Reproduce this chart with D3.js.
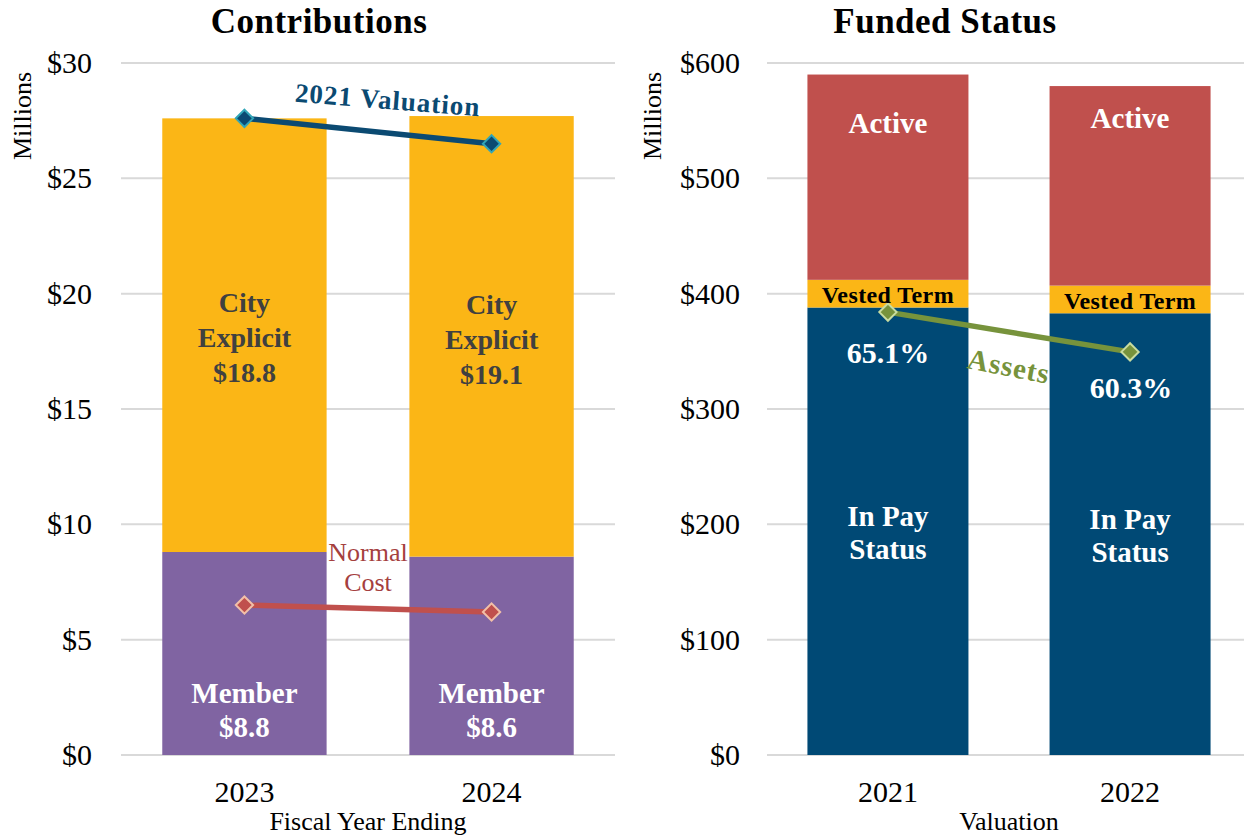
<!doctype html>
<html>
<head>
<meta charset="utf-8"/>
<title>Contributions and Funded Status</title>
<script src="https://d3js.org/d3.v7.min.js"></script>
<style>
body { margin: 0; background: #fff; }
text { font-family: "Liberation Serif", "Times New Roman", serif; }
</style>
</head>
<body>
<svg id="svg1" width="1244" height="838"></svg>
<script>
// contributions chart
const fiscal_years = ['2023', '2024'];
const member = [8.8, 8.6];
const city_explicit = [18.8, 19.1];
const valuation_2021 = [27.6, 26.5];
const normal_cost = [6.5, 6.2];
const contrib_ticks = [0, 5, 10, 15, 20, 25, 30];

// funded status chart
const valuations = ['2021', '2022'];
const in_pay = [388, 383];
const vested_term = [24, 24];
const active = [178, 173];
const assets = [384, 349.5];
const funded_pct = ['65.1%', '60.3%'];
const funded_ticks = [0, 100, 200, 300, 400, 500, 600];

const svg = d3.select('#svg1');
const top_y = 63, bottom_y = 755;

function draw_panel(opt) {
    const x = d3.scaleBand().domain(opt.cats).range([opt.x0, opt.x1]).paddingInner(0.335).paddingOuter(0.167);
    const y = d3.scaleLinear().domain([0, opt.max]).range([bottom_y, top_y]);
    const g = svg.append('g');

    // gridlines
    g.selectAll('.grid').data(opt.ticks).enter().append('line')
        .attr('x1', opt.x0).attr('x2', opt.x1)
        .attr('y1', d => y(d)).attr('y2', d => y(d))
        .style('stroke', '#d9d9d9').style('stroke-width', 2);

    // tick labels
    const axis = d3.axisLeft(y).tickValues(opt.ticks).tickSize(0).tickPadding(opt.pad)
        .tickFormat(d => '$' + d);
    const ax = g.append('g').attr('transform', `translate(${opt.x0},0)`).call(axis);
    ax.select('.domain').remove();
    ax.selectAll('text').style('font-size', '30px').style('fill', '#000')
        .style('font-family', '"Liberation Serif", serif');

    const xa = d3.axisBottom(x).tickSize(0).tickPadding(26);
    const xg = g.append('g').attr('transform', `translate(0,${bottom_y})`).call(xa);
    xg.select('.domain').remove();
    xg.selectAll('text').style('font-size', '30px').style('fill', '#000')
        .style('font-family', '"Liberation Serif", serif');

    // stacked bars
    opt.cats.forEach((c, i) => {
        let base = 0;
        opt.stacks.forEach(s => {
            const v = s.values[i];
            g.append('rect')
                .attr('x', x(c)).attr('width', x.bandwidth())
                .attr('y', y(base + v)).attr('height', y(base) - y(base + v))
                .style('fill', s.color);
            base += v;
        });
    });

    // title and axis titles
    g.append('text').attr('x', opt.title_x).attr('y', 33)
        .attr('text-anchor', 'middle').style('font-size', '35px').style('font-weight', 'bold')
        .style('letter-spacing', '0.5px').text(opt.title);
    g.append('text').attr('x', (opt.x0 + opt.x1) / 2).attr('y', 830)
        .attr('text-anchor', 'middle').style('font-size', '26px').text(opt.x_title);
    g.append('text').attr('transform', `translate(${opt.mil_x},116) rotate(-90)`)
        .attr('text-anchor', 'middle').style('font-size', '26px').text('Millions');

    return {x: x, y: y, g: g};
}

function draw_line(p, cats, values, color, edge) {
    const line = d3.line().x((d, i) => p.x(cats[i]) + p.x.bandwidth() / 2).y(d => p.y(d));
    p.g.append('path').datum(values).attr('d', line)
        .style('fill', 'none').style('stroke', color).style('stroke-width', 5.5);
    p.g.selectAll(null).data(values).enter().append('path')
        .attr('d', d3.symbol(d3.symbolDiamond2, 190))
        .attr('transform', (d, i) => `translate(${p.x(cats[i]) + p.x.bandwidth() / 2},${p.y(d)})`)
        .style('fill', color).style('stroke', edge).style('stroke-width', 2);
}

function label(p, x, y, lines, color, size, weight, lh) {
    const t = p.g.append('text').attr('x', x).attr('y', y).attr('text-anchor', 'middle')
        .style('fill', color).style('font-size', size + 'px').style('font-weight', weight);
    lines.forEach((s, k) => t.append('tspan').attr('x', x).attr('dy', k == 0 ? 0 : lh).text(s));
    return t;
}

// left panel
const left = draw_panel({
    cats: fiscal_years, x0: 121, x1: 615, max: 30, ticks: contrib_ticks, pad: 29,
    stacks: [{values: member, color: '#8064a2'}, {values: city_explicit, color: '#fbb616'}],
    title: 'Contributions', title_x: 319, x_title: 'Fiscal Year Ending', mil_x: 31
});
draw_line(left, fiscal_years, valuation_2021, '#0b4a72', '#31a6b8');
draw_line(left, fiscal_years, normal_cost, '#c0504d', '#f2c0a8');

fiscal_years.forEach((c, i) => {
    const cx = left.x(c) + left.x.bandwidth() / 2;
    label(left, cx, 312 + i * 2, ['City', 'Explicit', '$' + city_explicit[i].toFixed(1)], '#404040', 28, 'bold', 35);
    label(left, cx, 703, ['Member', '$' + member[i].toFixed(1)], '#fff', 29, 'bold', 34);
});
label(left, 368, 561, ['Normal', 'Cost'], '#a5403e', 26, 'normal', 30);
left.g.append('text').attr('transform', 'translate(387,109) rotate(4.5)').attr('text-anchor', 'middle')
    .style('fill', '#0b4a72').style('font-size', '27px').style('font-weight', 'bold')
    .style('letter-spacing', '1px').text('2021 Valuation');

// right panel
const right = draw_panel({
    cats: valuations, x0: 767, x1: 1251, max: 600, ticks: funded_ticks, pad: 27,
    stacks: [{values: in_pay, color: '#004975'}, {values: vested_term, color: '#fbb616'},
             {values: active, color: '#c0504d'}],
    title: 'Funded Status', title_x: 945, x_title: 'Valuation', mil_x: 661
});
draw_line(right, valuations, assets, '#77933c', '#c8dca0');

const active_y = [133, 128];
const vested_y = [303, 309];
valuations.forEach((c, i) => {
    const cx = right.x(c) + right.x.bandwidth() / 2;
    label(right, cx, vested_y[i], ['Vested Term'], '#000', 24, 'bold', 0)
        .style('letter-spacing', '0.4px');
    label(right, cx, active_y[i], ['Active'], '#fff', 29, 'bold', 0);
    label(right, cx, 526 + i * 3, ['In Pay', 'Status'], '#fff', 29, 'bold', 33);
});
label(right, 888, 363, [funded_pct[0]], '#fff', 30, 'bold', 0);
label(right, 1131, 398, [funded_pct[1]], '#fff', 30, 'bold', 0);
right.g.append('text').attr('transform', 'translate(1007,376) rotate(11)').attr('text-anchor', 'middle')
    .style('fill', '#77933c').style('font-size', '29px').style('font-weight', 'bold')
    .style('letter-spacing', '1px').text('Assets');
</script>
</body>
</html>
